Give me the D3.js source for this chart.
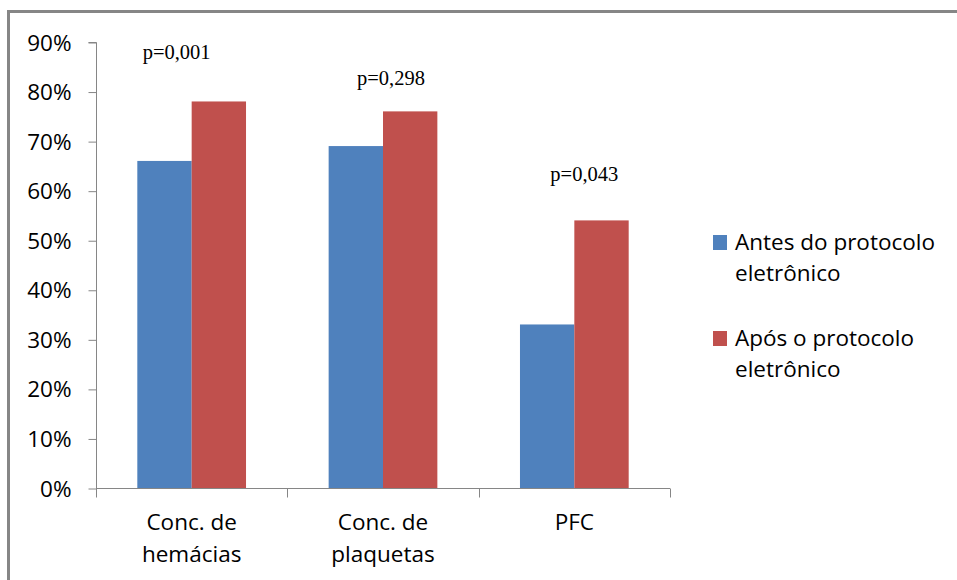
<!DOCTYPE html>
<html>
<head>
<meta charset="utf-8">
<script src="https://cdn.jsdelivr.net/npm/d3@7"></script>
<style>
  html, body { margin: 0; padding: 0; background: #fff; }
  svg { display: block; }
</style>
</head>
<body>
<svg id="chart" width="957" height="580"></svg>
<script>
// Categories (two-line labels) and series
const categories = ["Conc. de hemácias", "Conc. de plaquetas", "PFC"];
const categoryLines = [["Conc. de", "hemácias"], ["Conc. de", "plaquetas"], ["PFC"]];
const seriesNames = ["Antes do protocolo eletrônico", "Após o protocolo eletrônico"];
const legendLines = [["Antes do protocolo", "eletrônico"], ["Após o protocolo", "eletrônico"]];
const antes = [0.66, 0.69, 0.33];
const apos = [0.78, 0.76, 0.54];
const pValues = ["p=0,001", "p=0,298", "p=0,043"];
// Height (in value units) at which each p-value annotation sits
const pLevels = [0.865, 0.813, 0.619];
const yTicks = [0, 0.1, 0.2, 0.3, 0.4, 0.5, 0.6, 0.7, 0.8, 0.9];

const colors = ["#4f81bd", "#c0504d"];
const axisColor = "#868686";
const labelFont = "'Open Sans', Lato, sans-serif";
const labelSize = 22.5;

const svg = d3.select("#chart");

// Frame lines (top and left)
svg.append("line").attr("x1", 8.5).attr("x2", 957).attr("y1", 11.5).attr("y2", 11.5)
  .attr("stroke", axisColor).attr("stroke-width", 3);
svg.append("line").attr("x1", 8.5).attr("x2", 8.5).attr("y1", 10).attr("y2", 580)
  .attr("stroke", axisColor).attr("stroke-width", 3);

const plot = { left: 96, right: 670, top: 42, bottom: 488 };

const x0 = d3.scaleBand().domain(categories).range([plot.left, plot.right]).paddingInner(0).paddingOuter(0);
const x1 = d3.scaleBand().domain([0, 1]).range([0, x0.bandwidth()]).paddingInner(0).paddingOuter(0.76);
const y = d3.scaleLinear().domain([0, 0.9]).range([plot.bottom, plot.top]);

// Bars
const values = [antes, apos];
const g = svg.append("g");
categories.forEach((c, i) => {
  values.forEach((arr, s) => {
    g.append("rect")
      .attr("x", x0(c) + x1(s))
      .attr("y", y(arr[i]))
      .attr("width", x1.bandwidth())
      .attr("height", y(0) - y(arr[i]))
      .attr("fill", colors[s]);
  });
});

// Y axis
const yAxis = d3.axisLeft(y).tickValues(yTicks).tickFormat(d3.format(".0%")).tickSize(8).tickPadding(17);
const yg = svg.append("g").attr("transform", `translate(${plot.left + 0.5},0)`).call(yAxis);
yg.select(".domain").attr("stroke", axisColor).attr("d", `M-8,${plot.top + 0.5}H0V${plot.bottom + 0.5}`);
yg.selectAll(".tick line").attr("stroke", axisColor).attr("transform", "translate(0,0.5)");
yg.selectAll(".tick text").attr("font-family", labelFont).attr("font-size", labelSize).attr("fill", "#000").attr("dy", "0.36em");

// X axis: ticks at category boundaries
const xg = svg.append("g").attr("transform", `translate(0,${plot.bottom + 0.5})`);
xg.append("line").attr("x1", plot.left).attr("x2", plot.right).attr("y1", 0).attr("y2", 0).attr("stroke", axisColor);
const bounds = categories.map(c => x0(c)).concat([x0(categories[categories.length - 1]) + x0.bandwidth()]);
xg.selectAll("line.tk").data(bounds).enter().append("line").attr("class", "tk")
  .attr("x1", d => Math.round(d) + 0.5).attr("x2", d => Math.round(d) + 0.5)
  .attr("y1", 0).attr("y2", 9).attr("stroke", axisColor);

categories.forEach((c, i) => {
  const t = svg.append("text").attr("text-anchor", "middle")
    .attr("font-family", labelFont).attr("font-size", labelSize).attr("fill", "#000");
  categoryLines[i].forEach((ln, k) => {
    t.append("tspan").attr("x", x0(c) + x0.bandwidth() / 2).attr("y", 530 + k * 32).text(ln);
  });
});

// p-value annotations, shifted toward the "após" bar
const pShift = [-15, 8, 10];
categories.forEach((c, i) => {
  svg.append("text").attr("text-anchor", "middle")
    .attr("x", x0(c) + x0.bandwidth() / 2 + pShift[i])
    .attr("y", y(pLevels[i]))
    .attr("font-family", "'Liberation Serif', 'Times New Roman', serif")
    .attr("font-size", 20.5).attr("fill", "#000")
    .text(pValues[i]);
});

// Legend
const legend = svg.append("g");
seriesNames.forEach((name, s) => {
  const top = 235 + s * 96;
  legend.append("rect").attr("x", 713).attr("y", top).attr("width", 14).attr("height", 15).attr("fill", colors[s]);
  const t = legend.append("text").attr("font-family", labelFont).attr("font-size", labelSize).attr("fill", "#000");
  legendLines[s].forEach((ln, k) => {
    t.append("tspan").attr("x", 735).attr("y", top + 15 + k * 31).text(ln);
  });
});
</script>
</body>
</html>
